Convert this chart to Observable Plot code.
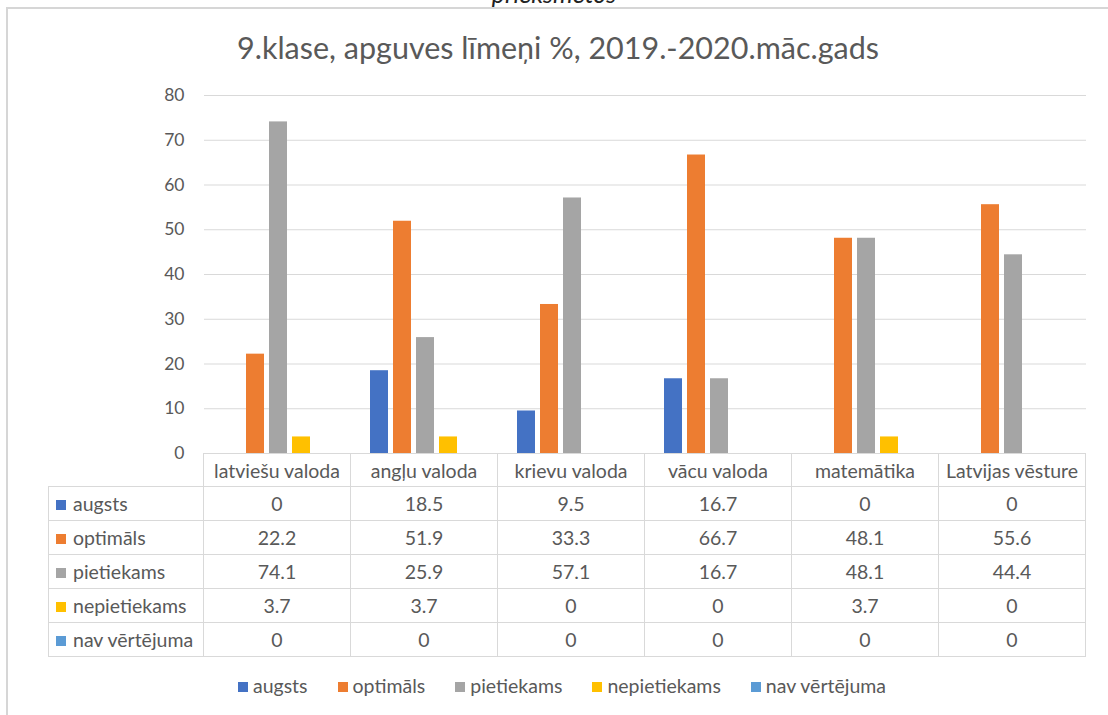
<!DOCTYPE html>
<html>
<head>
<meta charset="utf-8">
<script src="https://cdn.jsdelivr.net/npm/d3@7"></script>
<script src="https://cdn.jsdelivr.net/npm/@observablehq/plot@0.6"></script>
<style>
  html, body { margin: 0; padding: 0; background: #fff; }
  body { width: 1108px; height: 715px; position: relative; overflow: hidden; font-family: Lato, "Open Sans", sans-serif; color: #595959; }
  #frame { position: absolute; left: 6px; top: 7px; width: 1110px; height: 720px; border-top: 2px solid #d6d6d6; border-left: 2px solid #d6d6d6; }
  #cut { position: absolute; top: -19px; left: 0; width: 1108px; text-align: center; font-style: italic; font-size: 25px; line-height: 25px; color: #222; }
  #title { position: absolute; top: 29px; left: 4px; width: 1108px; text-align: center; font-size: 30.5px; line-height: 36px; }
  #chart { position: absolute; left: 0; top: 0; }
  #tbl { position: absolute; left: 48px; top: 453px; border-collapse: collapse; font-size: 19.5px; }
  #tbl td { border: 1px solid #d9d9d9; padding: 0; text-align: center; height: 34px; width: 147px; box-sizing: border-box; }
  #tbl tr:first-child td { height: 33px; }
  #tbl td.lab { width: 155px; text-align: left; padding-left: 7px; }
  #tbl td.blank { border-top: none; border-left: none; }
  .sw { display: inline-block; width: 10px; height: 10px; margin-right: 7px; vertical-align: 1px; }
  #legend { position: absolute; top: 674px; left: 8px; width: 1108px; display: flex; justify-content: center; font-size: 19.5px; }
  #legend span.item { margin: 0 15px; white-space: nowrap; }
  #legend .sw { margin-right: 5px; }
</style>
</head>
<body>
<div id="frame"></div>
<div id="cut">priekšmetos</div>
<div id="title">9.klase, apguves līmeņi %, 2019.-2020.māc.gads</div>
<div id="chart"></div>
<table id="tbl"></table>
<div id="legend"></div>
<script>
const subjects = ["latviešu valoda", "angļu valoda", "krievu valoda", "vācu valoda", "matemātika", "Latvijas vēsture"];
const levels = ["augsts", "optimāls", "pietiekams", "nepietiekams", "nav vērtējuma"];
const colors = ["#4472c4", "#ed7d31", "#a5a5a5", "#ffc000", "#5b9bd5"];
const augsts = [0, 18.5, 9.5, 16.7, 0, 0];
const optimals = [22.2, 51.9, 33.3, 66.7, 48.1, 55.6];
const pietiekams = [74.1, 25.9, 57.1, 16.7, 48.1, 44.4];
const nepietiekams = [3.7, 3.7, 0, 0, 3.7, 0];
const navVertejuma = [0, 0, 0, 0, 0, 0];
const yTicks = [0, 10, 20, 30, 40, 50, 60, 70, 80];

const series = [augsts, optimals, pietiekams, nepietiekams, navVertejuma];
const data = [];
subjects.forEach((s, i) => levels.forEach((l, j) => data.push({subject: s, level: l, value: series[j][i]})));

const plot = Plot.plot({
  width: 1108,
  height: 475,
  marginTop: 95,
  marginBottom: 22,
  marginLeft: 203,
  marginRight: 22,
  style: {fontFamily: "Lato, 'Open Sans', sans-serif", fontSize: "17.5px", color: "#595959", background: "transparent"},
  fx: {domain: subjects, padding: 0, axis: null, label: null},
  x: {domain: levels, paddingInner: 0.22, paddingOuter: 0.8, axis: null, label: null},
  y: {domain: [0, 80], ticks: yTicks, tickSize: 0, tickPadding: 20, label: null},
  color: {domain: levels, range: colors},
  marks: [
    Plot.ruleY(yTicks, {stroke: "#d9d9d9", strokeWidth: 1.2}),
    Plot.barY(data, {fx: "subject", x: "level", y: "value", fill: "level"})
  ]
});
document.getElementById("chart").appendChild(plot);

// data table
const tbl = document.getElementById("tbl");
let html = '<tr><td class="lab blank"></td>' + subjects.map(s => `<td>${s}</td>`).join("") + '</tr>';
levels.forEach((l, j) => {
  html += `<tr><td class="lab"><span class="sw" style="background:${colors[j]}"></span>${l}</td>` +
    series[j].map(v => `<td>${v}</td>`).join("") + '</tr>';
});
tbl.innerHTML = html;

// legend
document.getElementById("legend").innerHTML = levels.map((l, j) =>
  `<span class="item"><span class="sw" style="background:${colors[j]}"></span>${l}</span>`).join("");
</script>
</body>
</html>
